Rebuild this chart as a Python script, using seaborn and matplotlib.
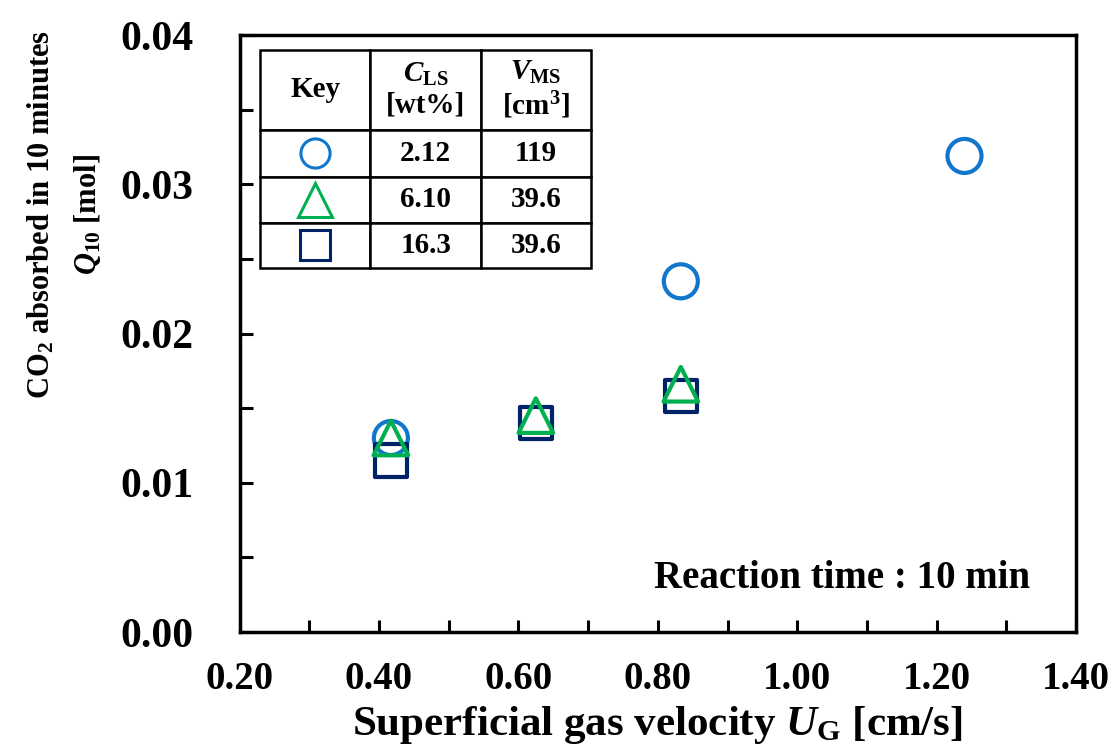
import matplotlib
matplotlib.use("Agg")
import matplotlib.pyplot as plt
import seaborn as sns
import pandas as pd
import numpy as np

# ---- data ----
ug_circle = [0.417, 0.833, 1.24]
q_circle = [0.0130, 0.0235, 0.0319]
ug_triangle = [0.417, 0.625, 0.833]
q_triangle = [0.0130, 0.0145, 0.0166]
ug_square = [0.417, 0.625, 0.833]
q_square = [0.0115, 0.0140, 0.0158]

key_cls = ["2.12", "6.10", "16.3"]
key_vms = ["119", "39.6", "39.6"]

x_ticks = [0.20, 0.40, 0.60, 0.80, 1.00, 1.20, 1.40]
y_ticks = [0.00, 0.01, 0.02, 0.03, 0.04]

c_blue = "#1177CC"
c_green = "#00B050"
c_navy = "#002266"

sns.set_theme(style="white")
plt.rcParams["font.family"] = ["Liberation Serif", "DejaVu Serif"]
plt.rcParams["font.weight"] = "bold"
plt.rcParams["text.color"] = "black"
plt.rcParams["axes.labelcolor"] = "black"
plt.rcParams["xtick.color"] = "black"
plt.rcParams["ytick.color"] = "black"
plt.rcParams["mathtext.fontset"] = "custom"
plt.rcParams["mathtext.rm"] = "Liberation Serif:bold"
plt.rcParams["mathtext.it"] = "Liberation Serif:bold:italic"
plt.rcParams["mathtext.bf"] = "Liberation Serif:bold"

fig = plt.figure(figsize=(11.11, 7.46), dpi=100)
ax = fig.add_axes([0.2157, 0.1528, 0.7528, 0.8002])

df_c = pd.DataFrame({"x": ug_circle, "y": q_circle})
df_s = pd.DataFrame({"x": ug_square, "y": q_square})
df_t = pd.DataFrame({"x": ug_triangle, "y": q_triangle})

sns.scatterplot(data=df_c, x="x", y="y", marker="o", s=600, facecolors="none",
                edgecolor=c_blue, linewidth=3, ax=ax, zorder=3)
sns.scatterplot(data=df_s, x="x", y="y", marker="s", s=540, facecolors="none",
                edgecolor=c_navy, linewidth=3, ax=ax, zorder=4)
sns.scatterplot(data=df_t, x="x", y="y", marker="^", s=620, facecolors="none",
                edgecolor=c_green, linewidth=3, ax=ax, zorder=5)

ax.set_xlim(0.2, 1.4)
ax.set_ylim(0.0, 0.04)
ax.set_xticks(x_ticks)
ax.set_xticklabels([f"{v:.2f}" for v in x_ticks])
ax.set_yticks(y_ticks)
ax.set_yticklabels([f"{v:.2f}" for v in y_ticks])
ax.set_xticks(np.arange(0.3, 1.4, 0.2), minor=True)
ax.set_yticks(np.arange(0.005, 0.04, 0.01), minor=True)

for lab in ax.get_xticklabels():
    lab.set_fontweight("bold")
    lab.set_fontsize(28)
for lab in ax.get_yticklabels():
    lab.set_fontweight("bold")
    lab.set_fontsize(30)

ax.tick_params(axis="both", which="both", direction="in", width=2.2, color="black",
               bottom=True, left=True, top=False, right=False)
ax.tick_params(axis="both", which="major", length=9)
ax.tick_params(axis="both", which="minor", length=9)
ax.tick_params(axis="y", which="major", pad=33)
ax.tick_params(axis="x", which="major", pad=21)

for sp in ax.spines.values():
    sp.set_linewidth(2.5)
    sp.set_color("black")

ax.set_xlabel(r"Superficial gas velocity $U_{\rm G}$ [cm/s]", fontsize=31,
              fontweight="bold", labelpad=4)
ax.set_ylabel("CO$_2$ absorbed in 10 minutes\n$Q_{10}$ [mol]", fontsize=22,
              fontweight="bold", linespacing=1.65)
ax.yaxis.set_label_coords(-0.163, 0.70)

ax.text(0.945, 0.09, "Reaction time : 10 min", transform=ax.transAxes,
        ha="right", va="center", fontsize=28, fontweight="bold")

# ---- key table ----
tb_x, tb_y, tb_w, tb_h = 0.0243, 0.610, 0.396, 0.365
header = ["Key", "$C_{\\rm LS}$\n[wt%]", "$V_{\\rm MS}$\n[cm$^3$]"]
rows = [["", a, b] for a, b in zip(key_cls, key_vms)]
tab = ax.table(cellText=[header] + rows, cellLoc="center",
               bbox=[tb_x, tb_y, tb_w, tb_h], zorder=6)
tab.auto_set_font_size(False)
row_fr = [80, 47, 46, 45]
tot = sum(row_fr)
for (r, c), cell in tab.get_celld().items():
    cell.set_linewidth(1.8)
    cell.set_edgecolor("black")
    cell.set_facecolor("white")
    cell.get_text().set_fontsize(21)
    cell.get_text().set_fontweight("bold")
    cell.set_height(tb_h * row_fr[r] / tot)
    if r == 0:
        cell.get_text().set_linespacing(1.15)

# key markers placed at the centres of the first column cells
col_cx = tb_x + tb_w / 6
tops = np.cumsum([0] + row_fr)
centres = [tb_y + tb_h * (1 - (tops[i] + row_fr[i] / 2) / tot) for i in range(1, 4)]
for yc, m, col, ms in zip(centres, ["o", "^", "s"], [c_blue, c_green, c_navy], [21, 24, 21]):
    ax.plot([col_cx], [yc], marker=m, ms=ms, mfc="white", mec=col, mew=2.2,
            transform=ax.transAxes, zorder=7, clip_on=False, ls="none")

fig.savefig("out.png", dpi=100)
